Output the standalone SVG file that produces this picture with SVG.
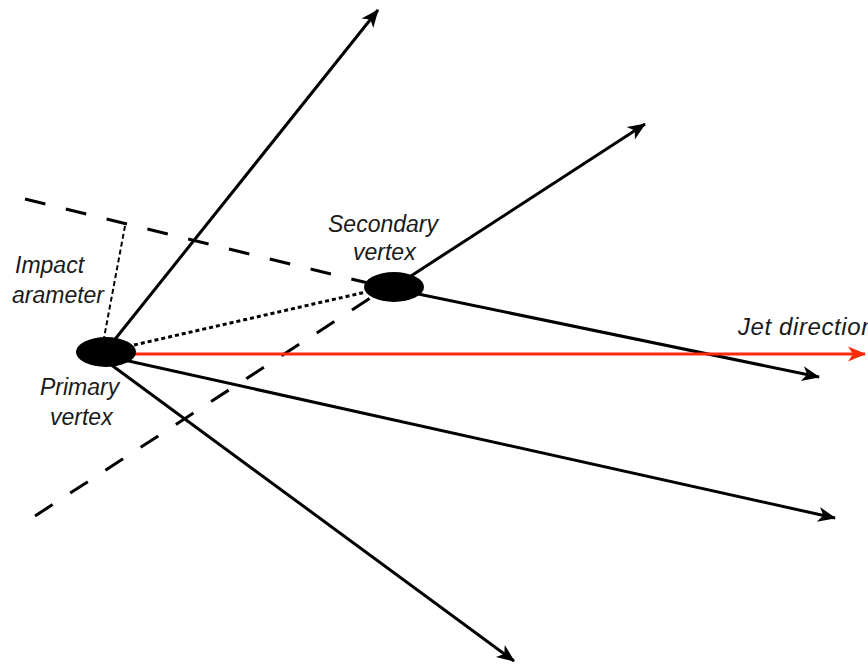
<svg xmlns="http://www.w3.org/2000/svg" width="868" height="665" viewBox="0 0 868 665">
<style>
.ln{stroke:#000;stroke-width:3;fill:none}
.dash{stroke:#000;stroke-width:3;fill:none;stroke-dasharray:21 21}
.dot{stroke:#000;stroke-width:3;fill:none;stroke-dasharray:4 3}
.dot2{stroke:#000;stroke-width:2;fill:none;stroke-dasharray:5 3}
.lbl{font-family:"Liberation Sans",Arial,sans-serif;font-style:italic;font-size:23px;fill:#1a1a1a}
</style>
<defs>
<marker id="ah" markerUnits="userSpaceOnUse" markerWidth="24" markerHeight="20" viewBox="-20 -10 24 20" refX="0" refY="0" orient="auto">
<path d="M1,0 L-17,-7.5 L-12,0 L-17,7.5 Z" fill="#000"/>
</marker>
<marker id="ahr" markerUnits="userSpaceOnUse" markerWidth="24" markerHeight="20" viewBox="-20 -10 24 20" refX="0" refY="0" orient="auto">
<path d="M1,0 L-17,-7.5 L-12,0 L-17,7.5 Z" fill="#ff2a0a"/>
</marker>
</defs>
<g id="connectors">
<line class="dash" x1="25" y1="199" x2="368" y2="283"/>
<line class="dash" x1="35" y1="516" x2="372" y2="297"/>
<line class="dot2" x1="125" y1="226" x2="104" y2="338"/>
<line class="dot" x1="134" y1="345" x2="366" y2="292"/>
<line class="ln" x1="108" y1="348" x2="378" y2="10" marker-end="url(#ah)"/>
<line class="ln" x1="394" y1="287" x2="645" y2="124" marker-end="url(#ah)"/>
<line class="ln" x1="394" y1="289" x2="819" y2="377" marker-end="url(#ah)"/>
<line class="ln" x1="106" y1="356" x2="835" y2="518" marker-end="url(#ah)"/>
<line class="ln" x1="106" y1="361" x2="514" y2="661" marker-end="url(#ah)"/>
<line x1="120" y1="354" x2="865" y2="354" stroke="#ff2a0a" stroke-width="3" marker-end="url(#ahr)"/>
</g>
<g id="primary-vertex">
<ellipse cx="106" cy="352" rx="30" ry="15" fill="#000"/>
<text class="lbl" x="40" y="395">Primary</text>
<text class="lbl" x="50" y="425">vertex</text>
</g>
<g id="secondary-vertex">
<ellipse cx="394" cy="287" rx="30" ry="15" fill="#000"/>
<text class="lbl" x="328" y="232">Secondary</text>
<text class="lbl" x="353" y="260">vertex</text>
</g>
<g id="impact-parameter">
<text class="lbl" x="15" y="273">Impact</text>
<text class="lbl" y="303"><tspan x="-20">p</tspan><tspan x="12">arameter</tspan></text>
</g>
<g id="jet-direction">
<text class="lbl" x="738" y="335" style="font-size:24px;letter-spacing:0.6px">Jet direction</text>
</g>
</svg>
